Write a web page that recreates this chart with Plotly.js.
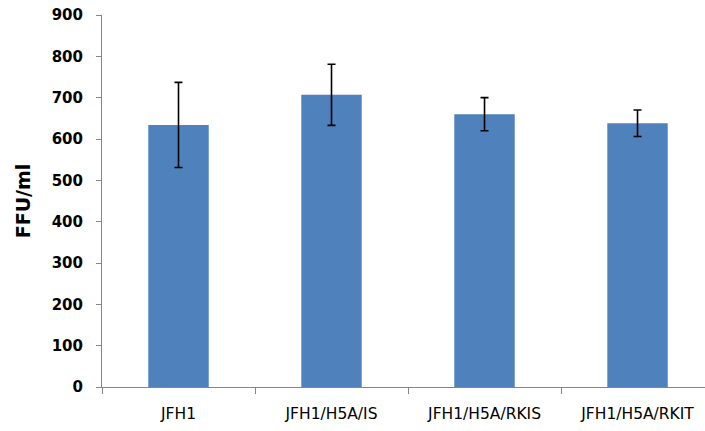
<!DOCTYPE html>
<html>
<head>
<meta charset="utf-8">
<script src="https://cdn.plot.ly/plotly-3.0.1.min.js"></script>
<style>html,body{margin:0;padding:0;background:#fff;}#chart{width:705px;height:431px;}</style>
</head>
<body>
<div id="chart"></div>
<script>
const categories = ["JFH1", "JFH1/H5A/IS", "JFH1/H5A/RKIS", "JFH1/H5A/RKIT"];
const values = [634, 707, 660, 638];
const errors = [103, 74, 40, 32];
const yTicks = [0, 100, 200, 300, 400, 500, 600, 700, 800, 900];

const trace = {
  type: "bar",
  x: categories,
  y: values,
  marker: {color: "#4F81BD", line: {width: 0}},
  error_y: {type: "data", array: errors, visible: true, color: "#000000", thickness: 1.6, width: 4},
  hoverinfo: "none"
};

const layout = {
  width: 705,
  height: 431,
  margin: {l: 102, r: 0, t: 15, b: 44, pad: 0},
  paper_bgcolor: "#ffffff",
  plot_bgcolor: "#ffffff",
  showlegend: false,
  bargap: 0.605,
  font: {family: "DejaVu Sans", color: "#000000"},
  xaxis: {
    type: "category",
    range: [-0.5, 3.441],
    showline: true,
    linecolor: "#868686",
    linewidth: 1,
    showgrid: false,
    zeroline: false,
    ticks: "outside",
    tickson: "boundaries",
    ticklen: 6,
    tickcolor: "#868686",
    tickfont: {family: "DejaVu Sans", size: 15.5, color: "#000000"},
    ticklabelstandoff: 12
  },
  yaxis: {
    range: [0, 900],
    tickvals: yTicks,
    ticktext: yTicks.map(String),
    showline: true,
    linecolor: "#868686",
    linewidth: 1,
    showgrid: false,
    zeroline: false,
    ticks: "outside",
    ticklen: 5,
    tickcolor: "#868686",
    tickfont: {family: "DejaVu Sans", size: 15, color: "#000000", weight: "bold"},
    ticklabelstandoff: 10,
    title: {text: "<b>FFU/ml</b>", font: {family: "DejaVu Sans", size: 19, color: "#000000"}, standoff: 16}
  }
};

Plotly.newPlot("chart", [trace], layout, {staticPlot: true, displayModeBar: false});
</script>
</body>
</html>
